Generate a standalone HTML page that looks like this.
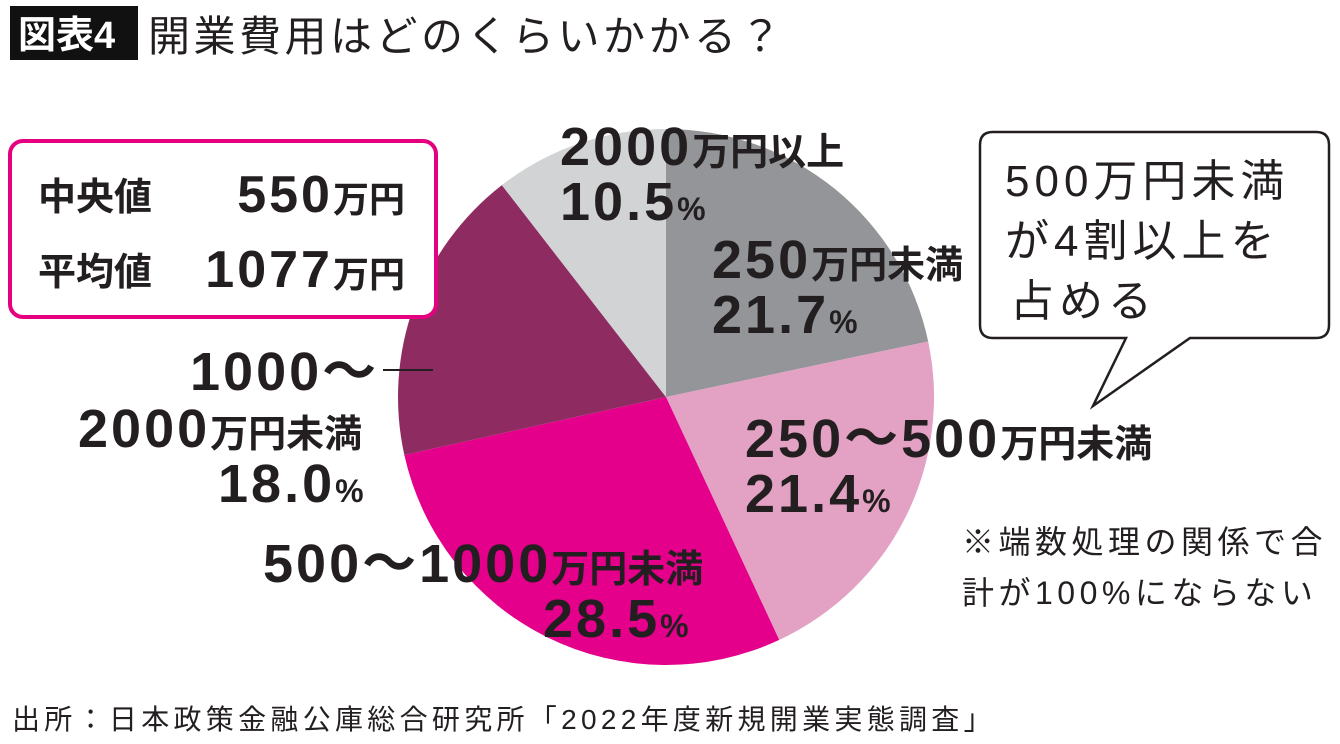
<!DOCTYPE html>
<html><head><meta charset="utf-8"><style>
body{margin:0;background:#fff;}
svg{display:block;font-family:"Liberation Sans","Noto Sans CJK JP",sans-serif;}
.d{font-size:54px;font-weight:bold;fill:#231f20;letter-spacing:3px;}
.k{font-size:38px;font-weight:bold;}
.p{font-size:32px;font-weight:bold;}
</style></head><body>
<svg id="chart" width="1340" height="744" viewBox="0 0 1340 744">
<rect x="10" y="6" width="128" height="54" fill="#111"/>
<text x="18" y="48" font-size="38" fill="#fff" font-weight="bold">図表4</text>
<text x="148" y="51" font-size="42" fill="#231f20" letter-spacing="3.5">開業費用はどのくらいかかる？</text>
<g id="slices"></g>

<rect x="10" y="141" width="426" height="176" rx="13" fill="#fff" stroke="#e4007f" stroke-width="4"/>
<text x="38" y="210" font-size="38" font-weight="bold" fill="#231f20">中央値</text>
<text x="405" y="212" text-anchor="end" fill="#231f20" font-weight="bold"><tspan font-size="52" letter-spacing="3">550</tspan><tspan font-size="36">万円</tspan></text>
<text x="38" y="285" font-size="38" font-weight="bold" fill="#231f20">平均値</text>
<text x="405" y="287" text-anchor="end" fill="#231f20" font-weight="bold"><tspan font-size="52" letter-spacing="3">1077</tspan><tspan font-size="36">万円</tspan></text>

<g fill="#231f20">
<text x="560" y="165"><tspan class="d">2000</tspan><tspan class="k">万円以上</tspan></text>
<text x="560" y="220"><tspan class="d">10.5</tspan><tspan class="p">%</tspan></text>
<text x="712" y="278"><tspan class="d">250</tspan><tspan class="k">万円未満</tspan></text>
<text x="712" y="333"><tspan class="d">21.7</tspan><tspan class="p">%</tspan></text>
<text x="190" y="390"><tspan class="d">1000～</tspan></text>
<line x1="383" y1="370" x2="433" y2="370" stroke="#231f20" stroke-width="2"/>
<text x="78" y="447"><tspan class="d">2000</tspan><tspan class="k">万円未満</tspan></text>
<text x="218" y="502"><tspan class="d">18.0</tspan><tspan class="p">%</tspan></text>
<text x="745" y="457"><tspan class="d">250～500</tspan><tspan class="k">万円未満</tspan></text>
<text x="745" y="512"><tspan class="d">21.4</tspan><tspan class="p">%</tspan></text>
<text x="263" y="582"><tspan class="d">500～1000</tspan><tspan class="k">万円未満</tspan></text>
<text x="543" y="637"><tspan class="d">28.5</tspan><tspan class="p">%</tspan></text>
</g>

<path d="M993,132 H1316 Q1329,132 1329,145 V325 Q1329,338 1316,338 H1190 L1093,406 L1126,338 H993 Q980,338 980,325 V145 Q980,132 993,132 Z" fill="#fff" stroke="#231f20" stroke-width="2.5"/>
<text font-size="44" fill="#231f20" letter-spacing="5"><tspan x="1005" y="196">500万円未満</tspan><tspan x="1005" y="256">が4割以上を</tspan><tspan x="1010" y="316">占める</tspan></text>

<text font-size="32" fill="#231f20" letter-spacing="4.5"><tspan x="962" y="553">※端数処理の関係で合</tspan><tspan x="962" y="604">計が100%にならない</tspan></text>
<text x="12" y="729" font-size="28" fill="#231f20" letter-spacing="4.3">出所：日本政策金融公庫総合研究所「2022年度新規開業実態調査」</text>
</svg>
<script>
const categories = ["250万円未満","250～500万円未満","500～1000万円未満","1000～2000万円未満","2000万円以上"];
const shares = [21.7, 21.4, 28.5, 18.0, 10.5];
const colors = ["#939598","#e3a1c3","#e4008a","#8e2c62","#d1d3d5"];
const cx = 666, cy = 397, r = 268;
const g = document.getElementById('slices');
const total = shares.reduce((a,b)=>a+b,0);
let a0 = -Math.PI/2;
shares.forEach((v,i)=>{
  const a1 = a0 + v/total*2*Math.PI;
  const x0 = cx + r*Math.cos(a0), y0 = cy + r*Math.sin(a0);
  const x1 = cx + r*Math.cos(a1), y1 = cy + r*Math.sin(a1);
  const large = (a1-a0) > Math.PI ? 1 : 0;
  const p = document.createElementNS('http://www.w3.org/2000/svg','path');
  p.setAttribute('d', `M${cx},${cy} L${x0},${y0} A${r},${r} 0 ${large} 1 ${x1},${y1} Z`);
  p.setAttribute('fill', colors[i]);
  
  
  g.appendChild(p);
  a0 = a1;
});
</script>
</body></html>
